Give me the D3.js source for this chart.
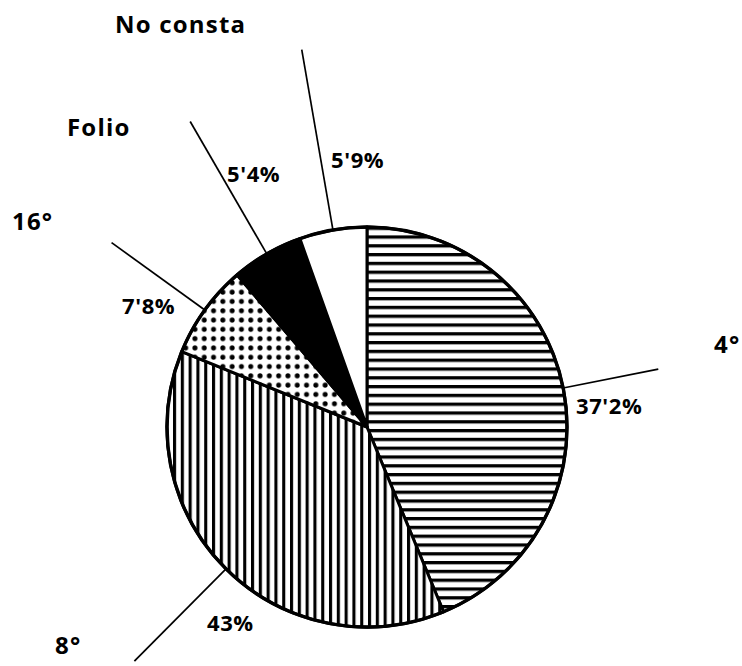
<!DOCTYPE html>
<html>
<head>
<meta charset="utf-8">
<script src="https://cdn.jsdelivr.net/npm/d3@7"></script>
<style>
  html, body { margin: 0; padding: 0; background: #fff; }
  svg { display: block; }
  text { font-family: "Open Sans", "Noto Sans", sans-serif; font-weight: 700; fill: #000; }
</style>
</head>
<body>
<svg id="chart" width="742" height="666"></svg>
<script>
// ---- data ----
const categories = ["4°", "8°", "16°", "Folio", "No consta"];
// printed percentage labels
const pctLabels = ["37'2%", "43%", "7'8%", "5'4%", "5'9%"];
// slice sizes as drawn in the picture (share of the circle, %)
const sliceShare = [43.75, 37.4, 7.6, 5.8, 5.45];
const patterns = ["hlines", "vlines", "dots", "solid", "empty"];

// ---- layout ----
const W = 742, H = 666;
const cx = 367, cy = 427, R = 200;
const leaderOuter = [297, 330, 315, 353, 383];
const catPos = [[714, 353], [55, 654], [12, 230], [67, 136], [115, 33]];
const pctPos = [[576, 414], [207, 631], [122, 314], [227, 182], [331, 168]];

const svg = d3.select("#chart");
const defs = svg.append("defs");

// horizontal lines
const ph = defs.append("pattern").attr("id", "hlines").attr("patternUnits", "userSpaceOnUse")
  .attr("width", 20).attr("height", 8.8).attr("y", 2);
ph.append("rect").attr("width", 20).attr("height", 8.8).attr("fill", "#fff");
ph.append("rect").attr("y", 0).attr("width", 20).attr("height", 3.3).attr("fill", "#000");

// vertical lines
const pv = defs.append("pattern").attr("id", "vlines").attr("patternUnits", "userSpaceOnUse")
  .attr("width", 7.8).attr("height", 20).attr("x", 1);
pv.append("rect").attr("width", 7.8).attr("height", 20).attr("fill", "#fff");
pv.append("rect").attr("x", 0).attr("width", 3.1).attr("height", 20).attr("fill", "#000");

// dots
const pd = defs.append("pattern").attr("id", "dots").attr("patternUnits", "userSpaceOnUse")
  .attr("width", 9.3).attr("height", 9.3);
pd.append("rect").attr("width", 9.3).attr("height", 9.3).attr("fill", "#fff");
pd.append("circle").attr("cx", 4.65).attr("cy", 4.65).attr("r", 2.5).attr("fill", "#000");

const fillFor = p => p === "solid" ? "#000" : p === "empty" ? "#fff" : `url(#${p})`;

const pie = d3.pie().sort(null).value(d => d.v).startAngle(0).endAngle(2 * Math.PI);
const data = categories.map((c, i) => ({ c, v: sliceShare[i], p: patterns[i], i }));
const arcs = pie(data);
const arc = d3.arc().innerRadius(0).outerRadius(R);

const g = svg.append("g").attr("transform", `translate(${cx},${cy})`);

g.selectAll("path.slice").data(arcs).enter().append("path")
  .attr("class", "slice")
  .attr("d", arc)
  .attr("fill", d => fillFor(d.data.p))
  .attr("stroke", "#000")
  .attr("stroke-width", 3)
  .attr("stroke-linejoin", "round");

// outer outline
g.append("circle").attr("r", R).attr("fill", "none").attr("stroke", "#000").attr("stroke-width", 3.4);

// leader lines (radial, from the circle at slice mid-angle)
g.selectAll("line.leader").data(arcs).enter().append("line")
  .attr("class", "leader")
  .each(function(d, i) {
    const a = (d.startAngle + d.endAngle) / 2;
    const r1 = R, r2 = leaderOuter[i];
    d3.select(this)
      .attr("x1", r1 * Math.sin(a)).attr("y1", -r1 * Math.cos(a))
      .attr("x2", r2 * Math.sin(a)).attr("y2", -r2 * Math.cos(a));
  })
  .attr("stroke", "#000").attr("stroke-width", 1.7);

// category labels
svg.selectAll("text.cat").data(categories).enter().append("text")
  .attr("class", "cat")
  .attr("x", (d, i) => catPos[i][0]).attr("y", (d, i) => catPos[i][1])
  .attr("font-size", 24)
  .attr("letter-spacing", 1.2)
  .text(d => d);

// percentage labels
svg.selectAll("text.pct").data(pctLabels).enter().append("text")
  .attr("class", "pct")
  .attr("x", (d, i) => pctPos[i][0]).attr("y", (d, i) => pctPos[i][1])
  .attr("font-size", 22)
  .attr("letter-spacing", 0.6)
  .text(d => d);
</script>
</body>
</html>
